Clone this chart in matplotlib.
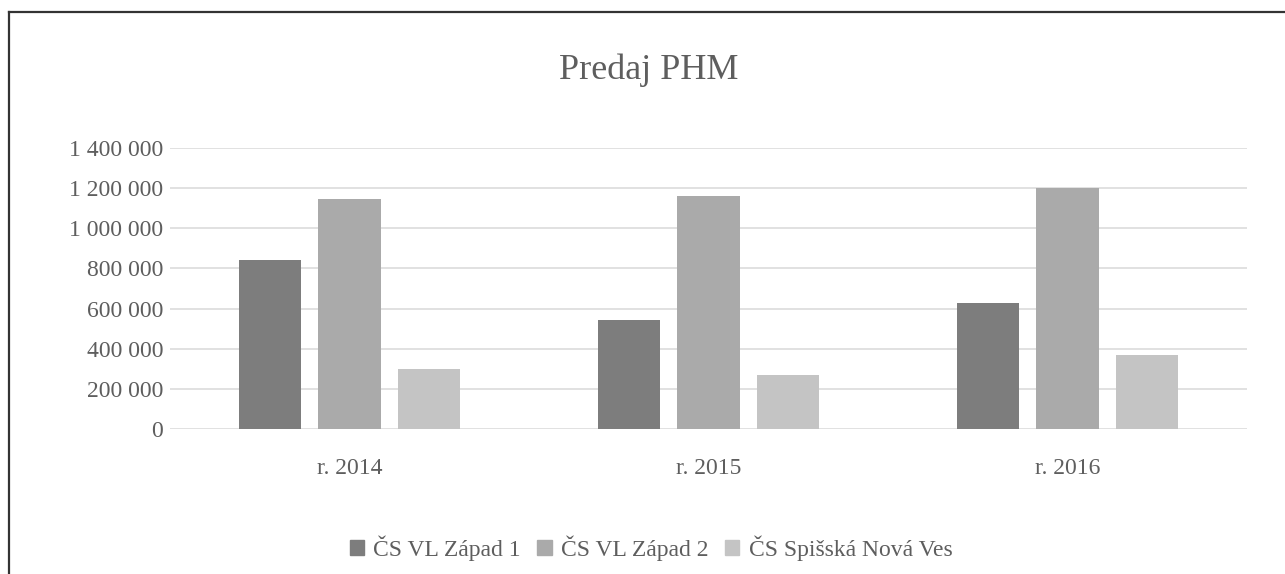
import numpy as np
import matplotlib.pyplot as plt
from matplotlib.lines import Line2D
from matplotlib.ticker import FuncFormatter

plt.rcParams['font.family'] = ['Liberation Serif', 'DejaVu Serif']

## DATA
years = ['r. 2014', 'r. 2015', 'r. 2016']
zapad1 = [842000, 545000, 630000]
zapad2 = [1148000, 1163000, 1200000]
spisska = [298000, 268000, 367000]
series_names = ['ČS VL Západ 1', 'ČS VL Západ 2', 'ČS Spišská Nová Ves']
yticks = [0, 200000, 400000, 600000, 800000, 1000000, 1200000, 1400000]
##########

colors = ['#7d7d7d', '#aaaaaa', '#c4c4c4']
txt = '#5e5e5e'

fig = plt.figure(figsize=(12.85, 5.74), dpi=100)
ax = fig.add_axes([170 / 1285, 1 - 429 / 574, (1247 - 170) / 1285, (429 - 148) / 574])

x = np.arange(len(years))
step = 0.222
width = 0.173
for i, (vals, name) in enumerate(zip([zapad1, zapad2, spisska], series_names)):
    ax.bar(x + (i - 1) * step, vals, width, color=colors[i], label=name, zorder=3)

ax.set_xlim(-0.5, 2.5)
ax.set_ylim(0, 1400000)
ax.set_yticks(yticks)
ax.yaxis.set_major_formatter(FuncFormatter(lambda v, p: f"{int(v):,}".replace(",", " ")))
ax.set_xticks(x)
ax.set_xticklabels(years)
ax.tick_params(axis='both', length=0, labelsize=17, colors=txt)
ax.tick_params(axis='y', pad=5)
ax.tick_params(axis='x', pad=21)
ax.grid(axis='y', color='#dcdcdc', linewidth=1.2, zorder=0)
for s in ax.spines.values():
    s.set_visible(False)

fig.text(649 / 1285, 1 - 70 / 574, 'Predaj PHM', ha='center', va='center',
         fontsize=26, color=txt)

handles = [plt.Rectangle((0, 0), 1, 1, color=c) for c in colors]
fig.legend(handles, series_names, loc='center', bbox_to_anchor=(651 / 1285, 1 - 548 / 574),
           ncol=3, frameon=False, fontsize=17, labelcolor=txt,
           handlelength=0.6, handleheight=0.6, handletextpad=0.4, columnspacing=0.7)

# chart frame (left and top edges visible in the scan)
fig.add_artist(Line2D([9 / 1285, 9 / 1285], [0, 1 - 12 / 574], transform=fig.transFigure,
                      color='#333333', linewidth=1.6))
fig.add_artist(Line2D([9 / 1285, 1], [1 - 12 / 574, 1 - 12 / 574], transform=fig.transFigure,
                      color='#333333', linewidth=1.6))

fig.savefig('out.png', dpi=100)
